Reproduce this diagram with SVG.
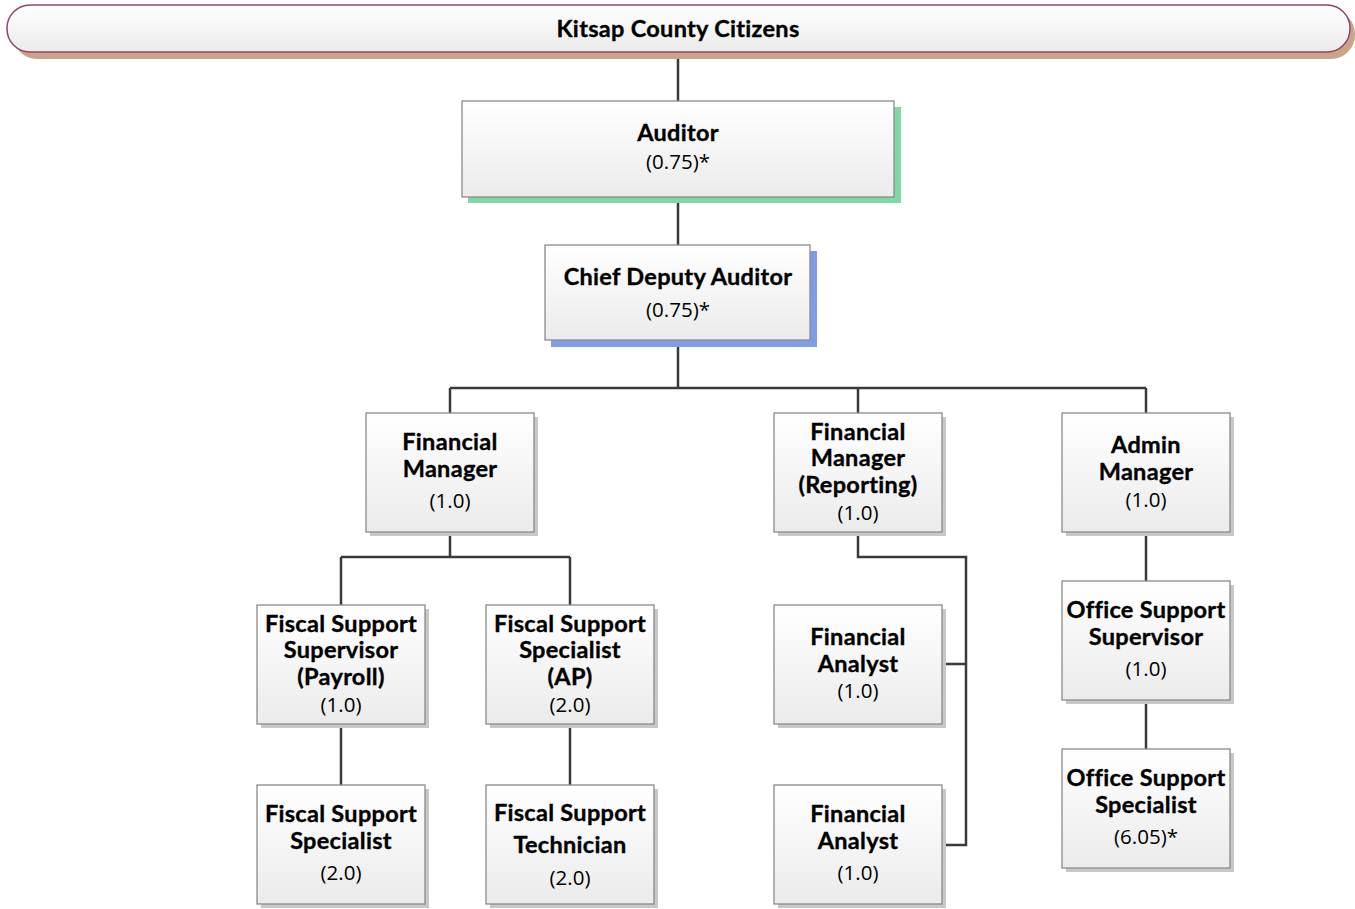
<svg xmlns="http://www.w3.org/2000/svg" width="1355" height="909" viewBox="0 0 1355 909">
<defs>
<linearGradient id="g" x1="0" y1="0" x2="0" y2="1"><stop offset="0" stop-color="#ffffff"/><stop offset="1" stop-color="#ebebeb"/></linearGradient>
</defs>
<style>
.b{fill:url(#g);stroke:#8a8a8a;stroke-width:1.3}
.sh{fill:#c8c8c8}
.t{font-family:Lato,"Open Sans",sans-serif;font-weight:bold;font-size:23.5px;letter-spacing:0.3px;fill:#000;stroke:#000;stroke-width:0.35;text-anchor:middle}
.n{font-family:"Open Sans","Noto Sans",sans-serif;font-size:20.5px;fill:#000;text-anchor:middle}
.c{fill:none;stroke:#3a3a3a;stroke-width:2.5}
</style>
<g id="connectors">
<path class="c" d="M678 52V101M678 197V245M678 340V388M450 388H1146M450 388V413M858 388V413M1146 388V413"/>
<path class="c" d="M450 532V557M341 557H570M341 557V605M570 557V605M341 724V785M570 724V785"/>
<path class="c" d="M858 532V557H966V845H942M942 664H966"/>
<path class="c" d="M1146 532V581M1146 700V749"/>
</g>
<g id="citizens">
<rect x="13" y="10" width="1342" height="49" rx="24" fill="#c9a487"/>
<rect x="7" y="5" width="1343" height="47" rx="23" fill="url(#g)" stroke="#8e4670" stroke-width="1.5"/>
<text class="t" x="678" y="37">Kitsap County Citizens</text>
</g>
<g id="auditor">
<rect x="468" y="107" width="433" height="96" fill="#80d8a6"/>
<rect class="b" x="462" y="101" width="432" height="96"/>
<text class="t" x="678" y="141">Auditor</text>
<text class="n" x="678" y="169">(0.75)*</text>
</g>
<g id="chief">
<rect x="551" y="251" width="266" height="96" fill="#7f9de6"/>
<rect class="b" x="545" y="245" width="265" height="95"/>
<text class="t" x="678" y="285">Chief Deputy Auditor</text>
<text class="n" x="678" y="317">(0.75)*</text>
</g>
<g id="fm">
<rect class="sh" x="370" y="417" width="168" height="119"/>
<rect class="b" x="366" y="413" width="168" height="119"/>
<text class="t" x="450" y="450">Financial</text>
<text class="t" x="450" y="477">Manager</text>
<text class="n" x="450" y="508">(1.0)</text>
</g>
<g id="fmr">
<rect class="sh" x="778" y="417" width="168" height="119"/>
<rect class="b" x="774" y="413" width="168" height="119"/>
<text class="t" x="858" y="440">Financial</text>
<text class="t" x="858" y="466">Manager</text>
<text class="t" x="858" y="493">(Reporting)</text>
<text class="n" x="858" y="520">(1.0)</text>
</g>
<g id="admin">
<rect class="sh" x="1066" y="417" width="168" height="119"/>
<rect class="b" x="1062" y="413" width="168" height="119"/>
<text class="t" x="1146" y="453">Admin</text>
<text class="t" x="1146" y="480">Manager</text>
<text class="n" x="1146" y="507">(1.0)</text>
</g>
<g id="fss">
<rect class="sh" x="261" y="609" width="168" height="119"/>
<rect class="b" x="257" y="605" width="168" height="119"/>
<text class="t" x="341" y="632">Fiscal Support</text>
<text class="t" x="341" y="658">Supervisor</text>
<text class="t" x="341" y="685">(Payroll)</text>
<text class="n" x="341" y="712">(1.0)</text>
</g>
<g id="fsap">
<rect class="sh" x="490" y="609" width="168" height="119"/>
<rect class="b" x="486" y="605" width="168" height="119"/>
<text class="t" x="570" y="632">Fiscal Support</text>
<text class="t" x="570" y="658">Specialist</text>
<text class="t" x="570" y="685">(AP)</text>
<text class="n" x="570" y="712">(2.0)</text>
</g>
<g id="fa1">
<rect class="sh" x="778" y="609" width="168" height="119"/>
<rect class="b" x="774" y="605" width="168" height="119"/>
<text class="t" x="858" y="645">Financial</text>
<text class="t" x="858" y="672">Analyst</text>
<text class="n" x="858" y="698">(1.0)</text>
</g>
<g id="oss">
<rect class="sh" x="1066" y="585" width="168" height="119"/>
<rect class="b" x="1062" y="581" width="168" height="119"/>
<text class="t" x="1146" y="618">Office Support</text>
<text class="t" x="1146" y="645">Supervisor</text>
<text class="n" x="1146" y="676">(1.0)</text>
</g>
<g id="fsspec">
<rect class="sh" x="261" y="789" width="168" height="119"/>
<rect class="b" x="257" y="785" width="168" height="119"/>
<text class="t" x="341" y="822">Fiscal Support</text>
<text class="t" x="341" y="849">Specialist</text>
<text class="n" x="341" y="880">(2.0)</text>
</g>
<g id="fstech">
<rect class="sh" x="490" y="789" width="168" height="119"/>
<rect class="b" x="486" y="785" width="168" height="119"/>
<text class="t" x="570" y="821">Fiscal Support</text>
<text class="t" x="570" y="853">Technician</text>
<text class="n" x="570" y="885">(2.0)</text>
</g>
<g id="fa2">
<rect class="sh" x="778" y="789" width="168" height="119"/>
<rect class="b" x="774" y="785" width="168" height="119"/>
<text class="t" x="858" y="822">Financial</text>
<text class="t" x="858" y="849">Analyst</text>
<text class="n" x="858" y="880">(1.0)</text>
</g>
<g id="ossp">
<rect class="sh" x="1066" y="753" width="168" height="119"/>
<rect class="b" x="1062" y="749" width="168" height="119"/>
<text class="t" x="1146" y="786">Office Support</text>
<text class="t" x="1146" y="813">Specialist</text>
<text class="n" x="1146" y="844">(6.05)*</text>
</g>
</svg>
